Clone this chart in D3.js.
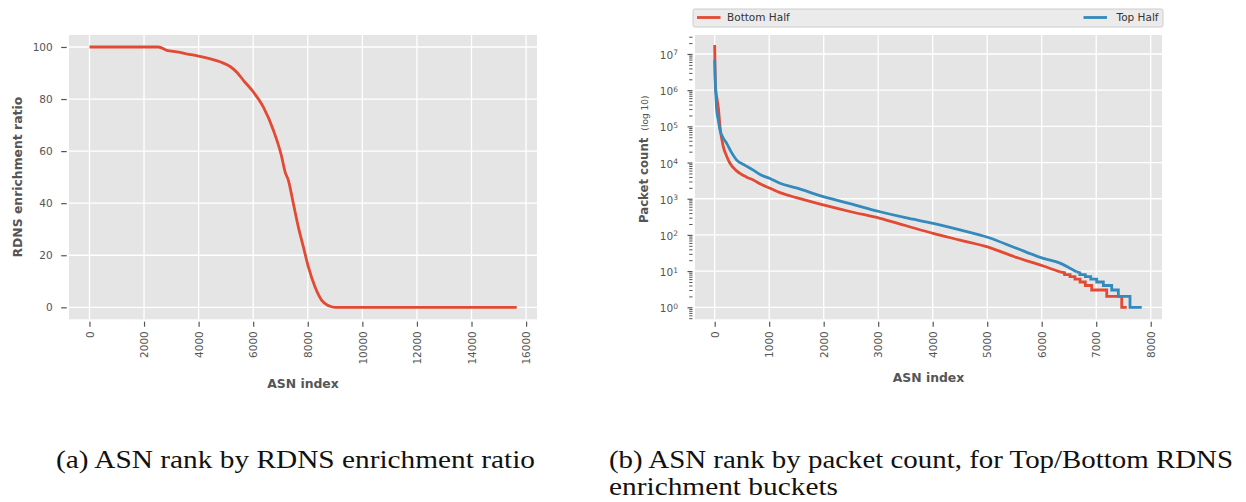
<!DOCTYPE html>
<html><head><meta charset="utf-8">
<script src="https://cdn.jsdelivr.net/npm/d3@7"></script>
<style>body{margin:0;background:#fff}svg{display:block}</style>
</head><body><svg id="c" width="1246" height="502"></svg>
<script>
// ---------- data: panel (a) ----------
const rdnsIndex = [0, 2530, 2835, 3201, 3600, 3993, 4400, 4788, 5154, 5400, 5641, 6007, 6374, 6740, 7047, 7168, 7289, 7473, 7656, 7839, 8022, 8267, 8512, 8700, 8817, 9000, 15656];
const rdnsRatio = [100, 100, 98.7, 98.1, 97.3, 96.5, 95.5, 94.3, 92.5, 90.3, 87.2, 82.7, 76.9, 68.0, 57.7, 52.0, 48.8, 39.8, 30.8, 23.2, 15.5, 7.8, 2.7, 1.0, 0.4, 0, 0];
const xTicksA = [0, 2000, 4000, 6000, 8000, 10000, 12000, 14000, 16000];
const yTicksA = [0, 20, 40, 60, 80, 100];

// ---------- data: panel (b) ----------
const seriesNames = ["Bottom Half", "Top Half"];
const bottomIndex = [0, 8, 20, 45, 70, 97, 158, 220, 281, 370, 464, 580, 708, 850, 1015, 1198, 1500, 1993, 2500, 3033, 3500, 4011, 4500, 5020, 5500, 6030, 6336,
  6420, 6420, 6520, 6520, 6610, 6610, 6704, 6704, 6800, 6800, 6917, 6917, 7193, 7193, 7468, 7468, 7560];
const bottomCount = [17800000, 3000000, 1000000, 550000, 300000, 100000, 27500, 15000, 9550, 6500, 5010, 4000, 3310, 2500, 1950, 1480, 1070, 676, 437, 288, 182, 110, 72, 46, 25, 13.8, 9.5,
  9, 8, 8, 7, 7, 6, 6, 5, 5, 4, 4, 3, 3, 2, 2, 1, 1];
const topIndex = [0, 10, 25, 37, 66, 97, 150, 220, 300, 404, 550, 708, 850, 1015, 1198, 1500, 1993, 2500, 3033, 3500, 4011, 4500, 5020, 5500, 6030, 6336, 6519, 6642,
  6700, 6700, 6800, 6800, 6900, 6900, 7009, 7009, 7131, 7131, 7284, 7284, 7406, 7406, 7620, 7620, 7835];
const topCount = [6800000, 2000000, 600000, 280000, 150000, 79400, 50000, 33900, 20000, 11700, 8500, 6170, 4500, 3630, 2690, 1990, 1150, 720, 437, 300, 209, 138, 85, 45, 22.4, 16.6, 12, 9.5,
  9, 8, 8, 7, 7, 6, 6, 5, 5, 4, 4, 3, 3, 2, 2, 1, 1];
const xTicksB = [0, 1000, 2000, 3000, 4000, 5000, 6000, 7000, 8000];
const yExpB = [0, 1, 2, 3, 4, 5, 6, 7];

const captionA = "(a) ASN rank by RDNS enrichment ratio";
const captionB1 = "(b) ASN rank by packet count, for Top/Bottom RDNS";
const captionB2 = "enrichment buckets";

// ---------- style ----------
const BG = "#E5E5E5", TXT = "#555555", RED = "#E24A33", BLUE = "#348ABD";
const FONT = "'DejaVu Sans', sans-serif";
const svg = d3.select("#c");

function frame(x, y) {
  const [x0, x1] = x.range(), [y0, y1] = [Math.max(...y.range()), Math.min(...y.range())];
  const g = svg.append("g");
  g.append("rect").attr("x", x0).attr("y", y1).attr("width", x1 - x0).attr("height", y0 - y1).attr("fill", BG);
  return {g, x0, x1, top: y1, bottom: y0};
}
function gridLines(f, x, y, xt, yt) {
  f.g.append("g").selectAll("line").data(xt).join("line")
    .attr("x1", d => x(d)).attr("x2", d => x(d)).attr("y1", f.top).attr("y2", f.bottom)
    .attr("stroke", "#fff").attr("stroke-width", 1.3);
  f.g.append("g").selectAll("line").data(yt).join("line")
    .attr("y1", d => y(d)).attr("y2", d => y(d)).attr("x1", f.x0).attr("x2", f.x1)
    .attr("stroke", "#fff").attr("stroke-width", 1.3);
}
function styleAxis(a) {
  a.select(".domain").remove();
  a.selectAll(".tick line").attr("stroke", TXT).attr("stroke-width", 1.2);
  a.selectAll("text").attr("fill", TXT).attr("font-family", FONT).attr("font-size", 10.5);
}
function xAxis(f, x, ticks) {
  const a = svg.append("g").attr("transform", `translate(0,${f.bottom + 2.4})`)
    .call(d3.axisBottom(x).tickValues(ticks).tickSize(5).tickFormat(d3.format("d")));
  styleAxis(a);
  a.selectAll(".tick text")
    .attr("transform", "rotate(-90)").attr("text-anchor", "end")
    .attr("x", -9.5).attr("y", 0).attr("dy", "0.35em");
  return a;
}

// ================= Panel (a) =================
const xA = d3.scaleLinear().domain([-750, 16400]).range([69, 537]);
const yA = d3.scaleLinear().domain([-4.6, 104.6]).range([319.3, 35]);
const fA = frame(xA, yA);
gridLines(fA, xA, yA, xTicksA, yTicksA);
xAxis(fA, xA, xTicksA);
const ayA = svg.append("g").attr("transform", `translate(${fA.x0 - 2.3},0)`)
  .call(d3.axisLeft(yA).tickValues(yTicksA).tickSize(5.5).tickPadding(8.5));
styleAxis(ayA);
const rdns = rdnsIndex.map((d, i) => [d, rdnsRatio[i]]);
fA.g.append("path").datum(rdns)
  .attr("d", d3.line().x(d => xA(d[0])).y(d => yA(d[1])).curve(d3.curveMonotoneX))
  .attr("fill", "none").attr("stroke", RED).attr("stroke-width", 2.8).attr("stroke-linejoin", "round");
svg.append("text").attr("x", (fA.x0 + fA.x1) / 2).attr("y", 388).attr("text-anchor", "middle")
  .attr("font-family", FONT).attr("font-weight", "bold").attr("font-size", 12.4).attr("fill", TXT).text("ASN index");
svg.append("text").attr("transform", `translate(21.5,${(fA.top + fA.bottom) / 2}) rotate(-90)`).attr("text-anchor", "middle")
  .attr("font-family", FONT).attr("font-weight", "bold").attr("font-size", 12.4).attr("fill", TXT).text("RDNS enrichment ratio");

// ================= Panel (b) =================
const xB = d3.scaleLinear().domain([-361, 8207]).range([695, 1162]);
const yB = d3.scaleLog().domain([Math.pow(10, -0.332), Math.pow(10, 7.525)]).range([319.3, 35]);
const fB = frame(xB, yB);
const majorB = yExpB.map(e => Math.pow(10, e));
gridLines(fB, xB, yB, xTicksB, majorB);
xAxis(fB, xB, xTicksB);
// minor ticks
const minorB = [];
for (let e = -1; e <= 7; e++) for (let m = 2; m <= 9; m++) {
  const v = m * Math.pow(10, e);
  if (v >= yB.domain()[0] && v <= yB.domain()[1]) minorB.push(v);
}
const minAx = svg.append("g").attr("transform", `translate(${fB.x0 - 2.5},0)`)
  .call(d3.axisLeft(yB).tickValues(minorB).tickSize(3.3).tickFormat(""));
styleAxis(minAx);
minAx.selectAll(".tick line").attr("stroke-width", 1);
const majAx = svg.append("g").attr("transform", `translate(${fB.x0 - 2.5},0)`)
  .call(d3.axisLeft(yB).tickValues(majorB).tickSize(5).tickFormat(""));
styleAxis(majAx);
const yl = svg.append("g").selectAll("text").data(yExpB).join("text")
  .attr("x", 678).attr("y", d => yB(Math.pow(10, d)) + 5).attr("text-anchor", "end")
  .attr("font-family", FONT).attr("fill", TXT).attr("font-size", 10.5);
yl.append("tspan").text("10");
yl.append("tspan").attr("font-size", 7.5).attr("dy", -3.6).text(d => d);

const bottomSeries = bottomIndex.map((d, i) => [d, bottomCount[i]]);
const topSeries = topIndex.map((d, i) => [d, topCount[i]]);
const smoothB = d3.line().x(d => xB(d[0])).y(d => yB(d[1])).curve(d3.curveMonotoneX);
const stepB = d3.line().x(d => xB(d[0])).y(d => yB(d[1]));
[[bottomSeries, RED], [topSeries, BLUE]].forEach(([s, c]) => {
  // smooth head until the integer stair-step tail starts (first repeated index)
  let k = s.findIndex((d, i) => i > 0 && d[0] === s[i - 1][0]);
  if (k < 0) k = s.length;
  const head = s.slice(0, k - 1), tail = s.slice(k - 2);
  const g = fB.g.append("g").attr("fill", "none").attr("stroke", c).attr("stroke-width", 2.8);
  g.append("path").datum(head).attr("d", smoothB).attr("stroke-linejoin", "round");
  g.append("path").datum(tail).attr("d", stepB).attr("stroke-linejoin", "miter");
});
svg.append("text").attr("x", (fB.x0 + fB.x1) / 2).attr("y", 381.6).attr("text-anchor", "middle")
  .attr("font-family", FONT).attr("font-weight", "bold").attr("font-size", 12.4).attr("fill", TXT).text("ASN index");
const ylab = svg.append("text").attr("transform", "translate(647.5,223) rotate(-90)").attr("text-anchor", "start")
  .attr("font-family", FONT).attr("fill", TXT);
ylab.append("tspan").attr("font-weight", "bold").attr("font-size", 11.7).text("Packet count ");
ylab.append("tspan").attr("font-size", 9).attr("dx", 3).text("(log 10)");

// legend
const lg = svg.append("g");
lg.append("rect").attr("x", 693).attr("y", 9).attr("width", 470).attr("height", 18).attr("rx", 2)
  .attr("fill", "#EBEBEB").attr("stroke", "#CCCCCC").attr("stroke-width", 1);
const legItems = [{name: seriesNames[0], c: RED, lx: 697, tx: 727, anchor: "start"},
                  {name: seriesNames[1], c: BLUE, lx: 1083.5, tx: 1158.5, anchor: "end"}];
legItems.forEach(it => {
  lg.append("line").attr("x1", it.lx).attr("x2", it.lx + 23.5).attr("y1", 17.5).attr("y2", 17.5)
    .attr("stroke", it.c).attr("stroke-width", 2.8);
  lg.append("text").attr("x", it.tx).attr("y", 21.3).attr("text-anchor", it.anchor)
    .attr("font-family", FONT).attr("font-size", 10.5).attr("fill", "#333").text(it.name);
});

// captions
const CAP = "'Liberation Serif', 'Times New Roman', serif";
[[captionA, 56, 468, 479], [captionB1, 609, 468, 624], [captionB2, 609, 495, 229]].forEach(([t, x, y, w]) => {
  svg.append("text").attr("x", x).attr("y", y).attr("font-family", CAP).attr("font-size", 26)
    .attr("fill", "#111").attr("textLength", w).attr("lengthAdjust", "spacingAndGlyphs").text(t);
});
</script></body></html>
